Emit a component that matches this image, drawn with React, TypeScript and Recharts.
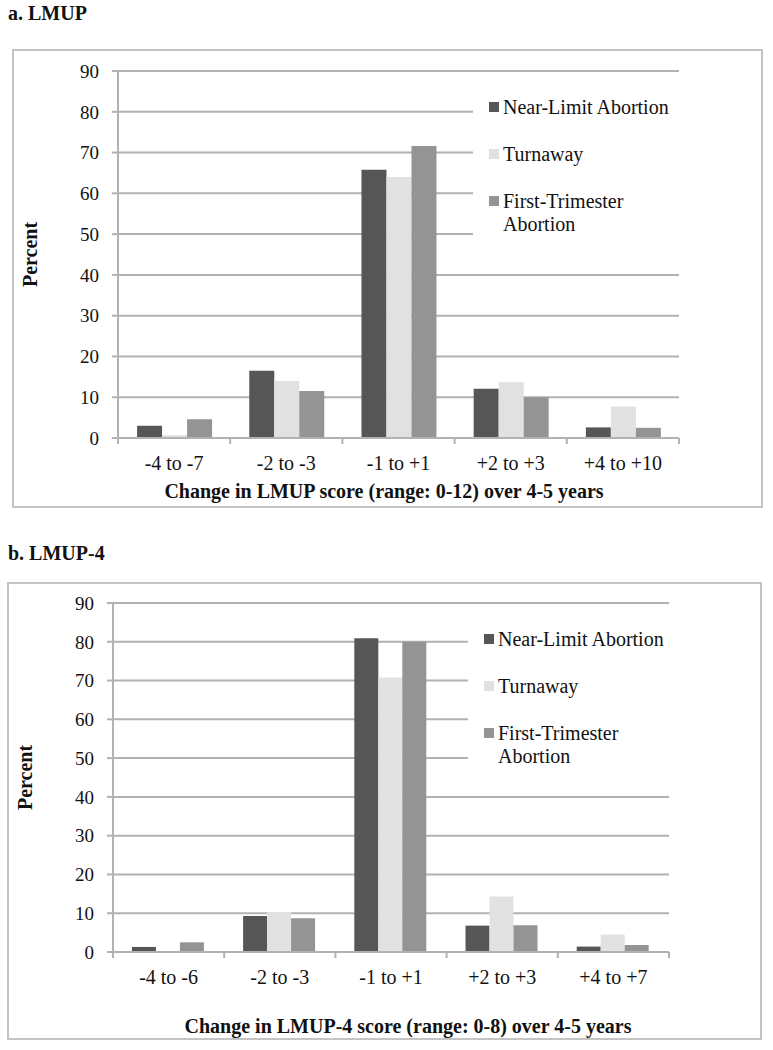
import React from "react";
import { BarChart, Bar, XAxis, YAxis, CartesianGrid, Legend } from "recharts";

const seriesNames = ["Near-Limit Abortion", "Turnaway", "First-Trimester Abortion"];
const seriesKeys = ["nearLimit", "turnaway", "firstTri"];
const seriesColors = ["#565656", "#e1e1e1", "#949494"];

const yTicks = [0, 10, 20, 30, 40, 50, 60, 70, 80, 90];

// panel a: LMUP
const categoriesA = ["-4 to -7", "-2 to -3", "-1 to +1", "+2 to +3", "+4 to +10"];
const nearLimitA = [3.0, 16.5, 65.8, 12.1, 2.6];
const turnawayA = [0.7, 14.0, 64.0, 13.7, 7.7];
const firstTriA = [4.6, 11.5, 71.6, 10.0, 2.5];

// panel b: LMUP-4
const categoriesB = ["-4 to -6", "-2 to -3", "-1 to +1", "+2 to +3", "+4 to +7"];
const nearLimitB = [1.3, 9.3, 80.9, 6.8, 1.4];
const turnawayB = [0, 10.3, 70.8, 14.3, 4.5];
const firstTriB = [2.5, 8.7, 80.0, 6.9, 1.8];

const GRID = "#b2b2b2";
const TEXT = "#111";
const FONT = "'Liberation Serif', 'Times New Roman', serif";

function buildRows(cats: string[], a: number[], b: number[], c: number[]) {
  return cats.map((cat, i) => ({ cat, nearLimit: a[i], turnaway: b[i], firstTri: c[i] }));
}

const XTick = (props: any) => {
  const { x, y, payload, index, step, count } = props;
  const axisY = y - 18;
  return (
    <g>
      <line x1={x - step / 2} x2={x - step / 2} y1={axisY} y2={axisY + 6} stroke={GRID} strokeWidth={2} />
      {index === count - 1 && (
        <line x1={x + step / 2} x2={x + step / 2} y1={axisY} y2={axisY + 6} stroke={GRID} strokeWidth={2} />
      )}
      <text x={x} y={y} dy="0.71em" textAnchor="middle" fontSize={20} fill={TEXT} fontFamily={FONT}>
        {payload.value}
      </text>
    </g>
  );
};

type PanelProps = {
  title: string;
  titleTop: number;
  rows: any[];
  box: { left: number; top: number; width: number; height: number };
  margin: { top: number; right: number; left: number };
  xHeight: number;
  xTitle: string;
  xTitleCenter: number;
  xTitleBaseline: number;
  percentX: number;
  legend: { left: number; top: number; padTop: number; padLeft: number };
};

function Panel(p: PanelProps) {
  const yAxisWidth = 40;
  const plotW = p.box.width - p.margin.left - yAxisWidth - p.margin.right;
  const step = plotW / p.rows.length;

  const renderLegend = (props: any) => {
    const items = [...(props.payload || [])].sort(
      (a: any, b: any) => seriesNames.indexOf(a.value) - seriesNames.indexOf(b.value)
    );
    return (
      <div style={{ paddingTop: p.legend.padTop, paddingLeft: p.legend.padLeft, paddingBottom: 8, fontFamily: FONT }}>
        {items.map((item: any, i: number) => (
          <div key={i} style={{ display: "flex", alignItems: "flex-start", marginTop: i === 0 ? 0 : 24 }}>
            <div style={{ width: 10, height: 10, marginTop: 6, background: item.color, flex: "none" }} />
            <div style={{ width: 172, marginLeft: 4, fontSize: 20, lineHeight: "23px", color: TEXT }}>{item.value}</div>
          </div>
        ))}
      </div>
    );
  };

  return (
    <>
      <div
        style={{
          position: "absolute",
          left: 8,
          top: p.titleTop,
          fontFamily: FONT,
          fontWeight: "bold",
          fontSize: 20,
          lineHeight: "20px",
          color: TEXT,
        }}
      >
        {p.title}
      </div>
      <div style={{ position: "absolute", left: p.box.left, top: p.box.top, width: p.box.width, height: p.box.height }}>
        <BarChart
          width={p.box.width}
          height={p.box.height}
          data={p.rows}
          margin={{ top: p.margin.top, right: p.margin.right, bottom: 0, left: p.margin.left }}
          barCategoryGap="17%"
          barGap={0}
          style={{ fontFamily: FONT }}
        >
          <CartesianGrid vertical={false} stroke={GRID} strokeWidth={2} />
          <XAxis
            dataKey="cat"
            height={p.xHeight}
            axisLine={{ stroke: GRID, strokeWidth: 2 }}
            tickLine={false}
            tickSize={6}
            tickMargin={12}
            interval={0}
            tick={(tp: any) => <XTick {...tp} step={step} count={p.rows.length} />}
            label={() => (
              <text
                x={p.xTitleCenter - p.box.left}
                y={p.xTitleBaseline - p.box.top}
                textAnchor="middle"
                fontSize={20}
                fontWeight="bold"
                fill={TEXT}
                fontFamily={FONT}
              >
                {p.xTitle}
              </text>
            )}
          />
          <YAxis
            width={yAxisWidth}
            domain={[0, 90]}
            ticks={yTicks}
            interval={0}
            axisLine={{ stroke: GRID, strokeWidth: 2 }}
            tickLine={{ stroke: GRID, strokeWidth: 2 }}
            tickSize={6}
            tickMargin={13}
            tick={{ fontSize: 19, fill: TEXT, fontFamily: FONT }}
            label={(lp: any) => {
              const vb = lp.viewBox || {};
              const cy = (vb.y || 0) + (vb.height || 0) / 2;
              const x = p.percentX - p.box.left;
              return (
                <text
                  x={x}
                  y={cy}
                  transform={`rotate(-90 ${x} ${cy})`}
                  textAnchor="middle"
                  fontSize={20}
                  fontWeight="bold"
                  fill={TEXT}
                  fontFamily={FONT}
                >
                  Percent
                </text>
              );
            }}
          />
          <Legend
            layout="horizontal"
            align="center"
            verticalAlign="middle"
            wrapperStyle={{
              left: p.legend.left - p.box.left,
              top: p.legend.top - p.box.top,
              width: 212,
              background: "#fff",
            }}
            content={renderLegend}
          />
          {seriesKeys.map((k, i) => (
            <Bar key={k} dataKey={k} name={seriesNames[i]} fill={seriesColors[i]} isAnimationActive={false} />
          ))}
        </BarChart>
        <div
          style={{
            position: "absolute",
            inset: 0,
            border: "2px solid #c4c4c4",
            pointerEvents: "none",
          }}
        />
      </div>
    </>
  );
}

export default function App() {
  const rowsA = buildRows(categoriesA, nearLimitA, turnawayA, firstTriA);
  const rowsB = buildRows(categoriesB, nearLimitB, turnawayB, firstTriB);
  return (
    <div style={{ position: "absolute", left: 0, top: 0, width: 773, height: 1050, background: "#fff", fontFamily: FONT }}>
      <Panel
        title="a. LMUP"
        titleTop={3}
        rows={rowsA}
        box={{ left: 12, top: 49, width: 751, height: 459 }}
        margin={{ top: 22, right: 84, left: 66 }}
        xHeight={70}
        xTitle="Change in LMUP score (range: 0-12) over 4-5 years"
        xTitleCenter={384}
        xTitleBaseline={498}
        percentX={37}
        legend={{ left: 473, top: 84, padTop: 12, padLeft: 16 }}
      />
      <Panel
        title="b. LMUP-4"
        titleTop={543}
        rows={rowsB}
        box={{ left: 7, top: 582, width: 755, height: 458 }}
        margin={{ top: 21, right: 93, left: 66 }}
        xHeight={88}
        xTitle="Change in LMUP-4 score (range: 0-8) over 4-5 years"
        xTitleCenter={408}
        xTitleBaseline={1033}
        percentX={32}
        legend={{ left: 468, top: 614, padTop: 14, padLeft: 16 }}
      />
    </div>
  );
}
